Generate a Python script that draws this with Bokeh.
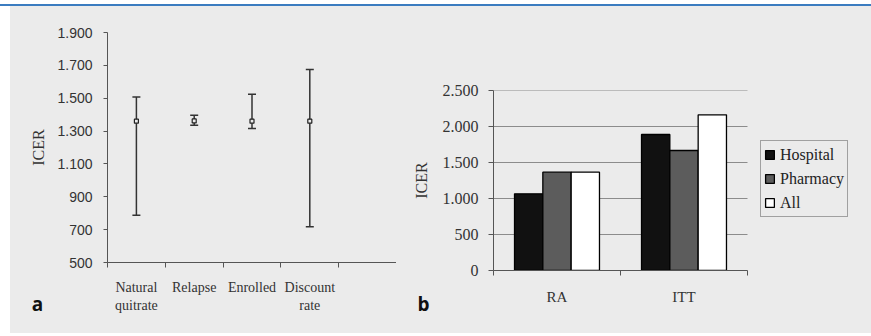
from bokeh.plotting import figure
from bokeh.models import (ColumnDataSource, FixedTicker, Whisker, TeeHead, Legend,
                          LegendItem, Label, Div, Range1d)
from bokeh.layouts import row, column
from bokeh.embed import file_html
from bokeh.resources import INLINE
from bokeh.transform import dodge

# ---------------- data ----------------
params = ["Natural\nquitrate", "Relapse", "Enrolled", "Discount\nrate"]
icer_base = [1360, 1362, 1360, 1360]
icer_low = [788, 1336, 1316, 717]
icer_high = [1508, 1397, 1524, 1675]
left_yticks = [500, 700, 900, 1100, 1300, 1500, 1700, 1900]
left_ylabels = ["500", "700", "900", "1.100", "1.300", "1.500", "1.700", "1.900"]

groups = ["RA", "ITT"]
hospital = [1065, 1889]
pharmacy = [1365, 1667]
all_sites = [1365, 2162]
right_yticks = [0, 500, 1000, 1500, 2000, 2500]
right_ylabels = ["0", "500", "1.000", "1.500", "2.000", "2.500"]

BG = "#ebebeb"
SERIF = "Liberation Serif"
SANS = "Liberation Sans"
AX = "#555555"

# ---------------- panel a ----------------
n_slots = len(params) + 1
p1 = figure(width=386, height=327, output_backend="svg", toolbar_location=None,
            x_range=Range1d(0, n_slots), y_range=Range1d(left_yticks[0], left_yticks[-1]),
            min_border_left=97, min_border_right=0, min_border_top=26, min_border_bottom=71)
p1.frame_align = False
p1.background_fill_color = BG
p1.border_fill_color = BG
p1.outline_line_color = None
p1.grid.visible = False

xs1 = [i + 0.5 for i in range(len(params))]
src1 = ColumnDataSource(dict(x=xs1, base=icer_base, low=icer_low, high=icer_high))
wk = Whisker(base="x", upper="high", lower="low", source=src1, dimension="height",
             line_color="#333333", line_width=1.5,
             upper_head=TeeHead(size=8, line_color="#333333", line_width=1.5),
             lower_head=TeeHead(size=8, line_color="#333333", line_width=1.5))
p1.add_layout(wk)
p1.scatter("x", "base", source=src1, marker="square", size=4,
           fill_color=BG, line_color="#222222", line_width=1.2)

xa = p1.xaxis[0]
xa.ticker = FixedTicker(ticks=xs1, minor_ticks=list(range(n_slots + 1)))
xa.major_label_overrides = {x: lab for x, lab in zip(xs1, params)}
xa.major_tick_out = 0
xa.major_tick_in = 0
xa.minor_tick_out = 5
xa.minor_tick_in = 0
xa.minor_tick_line_color = AX
xa.axis_line_color = AX
xa.major_label_standoff = 12
xa.major_label_text_font = SERIF
xa.major_label_text_font_size = "14px"
xa.major_label_text_color = "#333333"

ya = p1.yaxis[0]
ya.ticker = FixedTicker(ticks=left_yticks, minor_ticks=[])
ya.major_label_overrides = {t: lab for t, lab in zip(left_yticks, left_ylabels)}
ya.major_tick_out = 4
ya.major_tick_in = 0
ya.major_tick_line_color = AX
ya.axis_line_color = AX
ya.major_label_standoff = 11
ya.major_label_text_font = SANS
ya.major_label_text_font_size = "14px"
ya.major_label_text_color = "#333333"
ya.axis_label = "ICER"
ya.axis_label_text_font = SERIF
ya.axis_label_text_font_size = "16px"
ya.axis_label_text_font_style = "normal"
ya.axis_label_text_color = "#333333"
ya.axis_label_standoff = 7

p1.add_layout(Label(x=21, y=-41, x_units="screen", y_units="screen", text="a",
                    text_font="Open Sans", text_font_style="bold", text_font_size="19px",
                    text_align="center", text_baseline="middle", text_color="#111111"),
              "left")

# ---------------- panel b ----------------
b_width, b_left, b_right = 475, 97, 9
b_frame_w = b_width - b_left - b_right   # frame pixels
b_axis_w = 254                           # pixels covered by the category axis
x_end = len(groups) * b_frame_w / b_axis_w
p2 = figure(width=b_width, height=327, output_backend="svg", toolbar_location=None,
            x_range=Range1d(0, x_end), y_range=Range1d(right_yticks[0], right_yticks[-1]),
            min_border_left=b_left, min_border_right=b_right, min_border_top=84,
            min_border_bottom=63)
p2.frame_align = False
p2.background_fill_color = BG
p2.border_fill_color = BG
p2.outline_line_color = None
p2.grid.visible = False

# horizontal gridlines, limited to the category axis span
p2.segment(x0=[0] * (len(right_yticks) - 1), x1=[len(groups)] * (len(right_yticks) - 1),
           y0=right_yticks[1:], y1=right_yticks[1:], line_color="#8c8c8c", line_width=1)

xs2 = [i + 0.5 for i in range(len(groups))]
src2 = ColumnDataSource(dict(x=xs2, hospital=hospital, pharmacy=pharmacy, all=all_sites))
bw = 0.223
r_h = p2.vbar(x=dodge("x", -bw, range=p2.x_range), top="hospital", width=bw, source=src2,
              fill_color="#111111", line_color="#000000", line_width=1.3)
r_p = p2.vbar(x=dodge("x", 0, range=p2.x_range), top="pharmacy", width=bw, source=src2,
              fill_color="#5c5c5c", line_color="#000000", line_width=1.3)
r_a = p2.vbar(x=dodge("x", bw, range=p2.x_range), top="all", width=bw, source=src2,
              fill_color="#ffffff", line_color="#000000", line_width=1.3)

xb = p2.xaxis[0]
xb.bounds = (0, len(groups))
xb.ticker = FixedTicker(ticks=xs2, minor_ticks=list(range(len(groups) + 1)))
xb.major_label_overrides = {x: lab for x, lab in zip(xs2, groups)}
xb.major_tick_out = 0
xb.major_tick_in = 0
xb.minor_tick_out = 5
xb.minor_tick_in = 0
xb.minor_tick_line_color = AX
xb.axis_line_color = AX
xb.major_label_standoff = 13
xb.major_label_text_font = SERIF
xb.major_label_text_font_size = "15px"
xb.major_label_text_color = "#333333"

yb = p2.yaxis[0]
yb.ticker = FixedTicker(ticks=right_yticks, minor_ticks=[])
yb.major_label_overrides = {t: lab for t, lab in zip(right_yticks, right_ylabels)}
yb.major_tick_out = 5
yb.major_tick_in = 0
yb.major_tick_line_color = AX
yb.axis_line_color = AX
yb.major_label_standoff = 10
yb.major_label_text_font = SERIF
yb.major_label_text_font_size = "16px"
yb.major_label_text_color = "#333333"
yb.axis_label = "ICER"
yb.axis_label_text_font = SERIF
yb.axis_label_text_font_size = "16px"
yb.axis_label_text_font_style = "normal"
yb.axis_label_text_color = "#333333"
yb.axis_label_standoff = 10

legend = Legend(items=[LegendItem(label="Hospital", renderers=[r_h]),
                       LegendItem(label="Pharmacy", renderers=[r_p]),
                       LegendItem(label="All", renderers=[r_a])],
                location=(267, 53), orientation="vertical",
                label_text_font=SERIF, label_text_font_size="16px", label_text_color="#222222",
                glyph_width=11, glyph_height=11, label_height=21, spacing=3, padding=3,
                margin=0, label_standoff=5,
                border_line_color=AX, border_line_width=1,
                background_fill_color=BG, background_fill_alpha=1)
p2.add_layout(legend, "center")

p2.add_layout(Label(x=26, y=-33, x_units="screen", y_units="screen", text="b",
                    text_font="Open Sans", text_font_style="bold", text_font_size="19px",
                    text_align="center", text_baseline="middle", text_color="#111111"),
              "left")

top_line = Div(text="", width=871, height=2, margin=(4, 0, 0, 0),
               styles={"background-color": "#3b7cc0"})
layout = column(top_line,
                row(p1, p2, margin=(0, 0, 0, 10), styles={"background-color": BG}),
                margin=(0, 0, 0, 0))

open("out.html", "w").write(file_html(layout, INLINE))
